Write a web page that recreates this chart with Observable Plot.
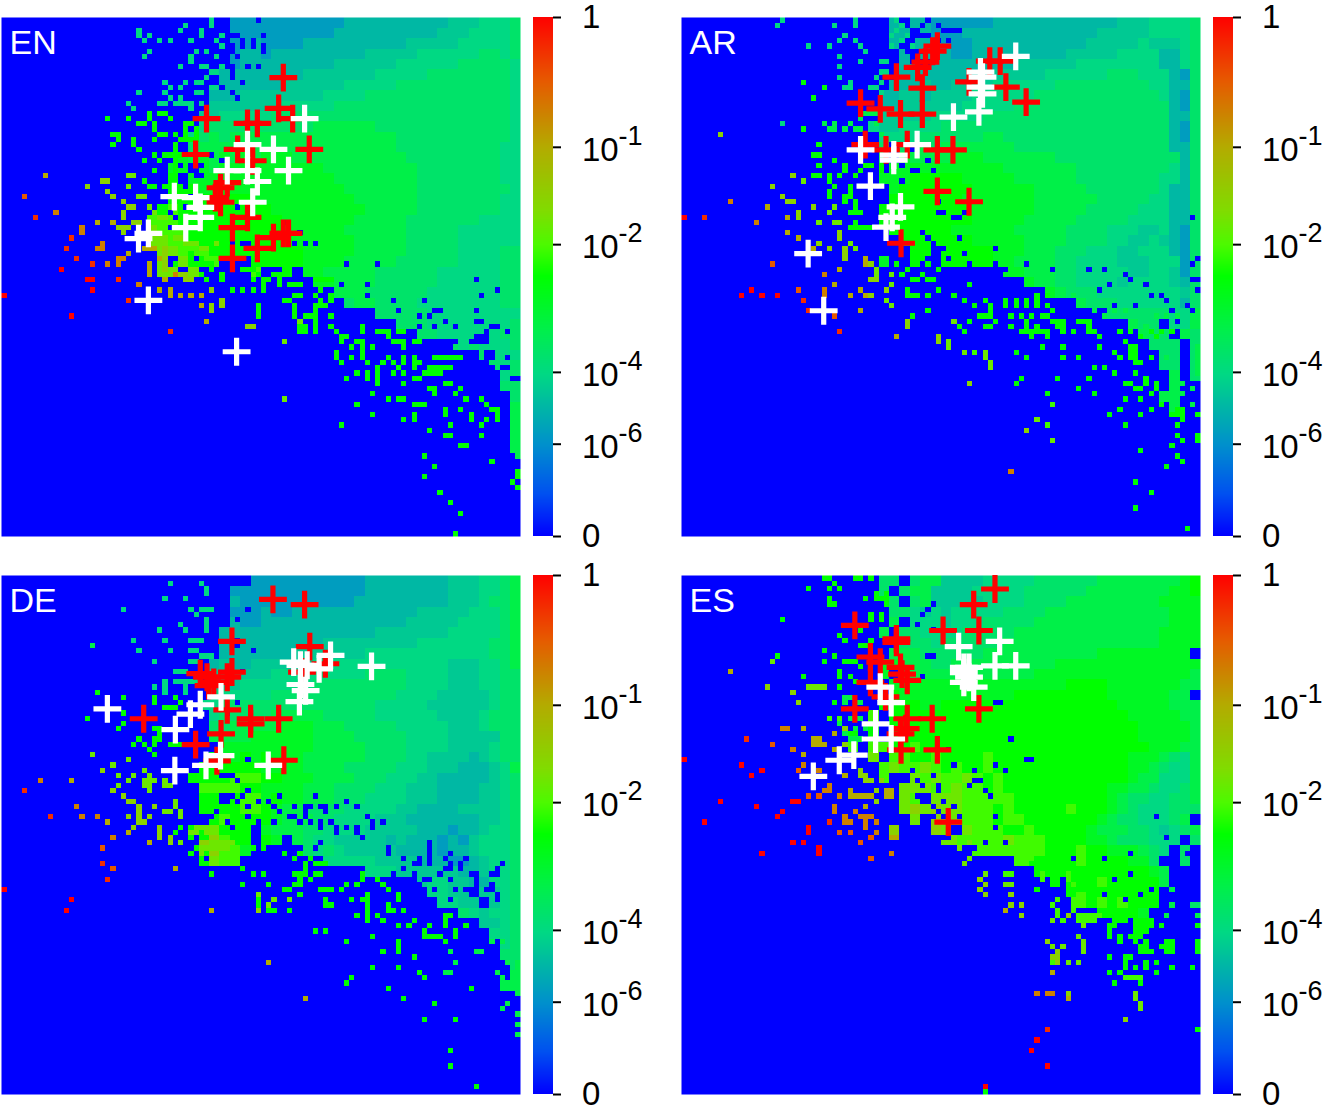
<!DOCTYPE html>
<html><head><meta charset="utf-8">
<script src="https://cdn.jsdelivr.net/npm/d3@7"></script>
<script src="https://cdn.jsdelivr.net/npm/@observablehq/plot@0.6"></script>
<style>html,body{margin:0;padding:0;background:#fff;overflow:hidden}#c{position:relative;width:1329px;height:1109px;overflow:hidden}#c>svg,#c>div{position:absolute;overflow:visible}</style>
</head><body><div id="c"></div>
<script>
const levelChars="abcdefghijklmnop";
const levelValues=[2.5e-6,1.5e-5,4e-5,9e-5,2.3e-4,6.6e-4,1.7e-3,3.9e-3,8.4e-3,1.7e-2,3.2e-2,.1,.2,.35,.6,1];
const barTicks=[0,1e-6,1e-4,1e-2,1e-1,1];
const barBase=["0","10","10","10","10","1"];
const barExp=["","-6","-4","-2","-1",""];
const stopT=[0,.08,.175,.31,.4,.5,.56,.625,.75,.875,1];
const stopColor=["#0000ff","#0050f0","#0090cc","#00d884","#00f048","#00ff00","#4cfa00","#80dc00","#b4aa00","#e65a00","#ff0000"];

const enGrid=[
"......................aaaaaaaaaaabbbbbbbbbbcccddde",
"......................aaaaaaaaaabbbbbbbbbbcccdddde",
"......................aabaaaabbbbbbbbbbcccccddddde",
"......................abbabbbbbbbbbcccccddddddeede",
"......................abbbbbbbbbccccccddddddeeeeed",
".....................bbbbbbbbcccccccdddddeeeeeeeed",
".....................bbbbbbccccccdddddeeeeeeeeeeed",
"....................bbbccccccccddddeeeeeeeeeeeeeed",
"....................cccccccdddddeeeeeeeeeeeeeeeeed",
"...................ccdddddeeeeeeeeeeeeeeeeeeeeeeed",
"...................deeeeeeeeeeffffffeeeeeeeeeeeeed",
"..................defeffffffffffffffffeeeeeeeeeeed",
"..................efffffffffffffffffffeeeeeeeeeedd",
".................gfgfgfgfgggfffffffffffeeeeeeeeedd",
"................gg.gfggggggggggfffffffffeeeeeeeedd",
"................h.ggggggggggggggffffffffeeeeeeeedd",
"................hhhggggggggggggggfffffffeeeeeeeeed",
"................hhhhhhhhggggggggggffffffeeeeeeeedd",
"...............hihhhhhhhhhgggggggggfffffeeeeeeeedd",
"..............iiihhhhhhhhhhgggggggfffffeeeeeeedddd",
"..............jiiihhhhhhhhhggggggffffffeeeeedddddd",
"..............jjiihhhhhhhhhhggggggfffffeeeeedddddd",
"...............jjiiihhhhhhhhhgggggfffffeeeeeddddee",
"...............j.j.ii...hhhhhggggfffffeeeeeeddddee",
"...............jj.j.....i..h.ggfffffeeeeeeddddddee",
"..............................ggffffeeeeeeddddddee",
"................................fffeeeeeedddddddee",
".................................effeeeeddddddddee",
"....................................eeeeeddddddddd",
"......................................eeedddddddde",
"........................................eeddddddee",
"...........................................ededdde",
"..............................................eddd",
"...............................................ede",
"................................................de",
"................................................ee",
".................................................e",
".................................................f",
".................................................f",
".................................................f",
".................................................f",
".................................................f"];
const enCells=[
"p 0,53 16,50 17,50 17,52 13,57 11,48",
"o 12,44 14,46 6,38 32,60 24,54 17,47 22,50 13,42",
"n 4,34",
"m 15,40 15,41 10,37 18,44 19,44 19,43 20,47 22,46 23,46 22,47 26,51 33,49",
"l 8,30 18,39 21,39 28,47 28,48 28,49 30,52 31,50 32,52 24,45 27,44 28,44 29,44 30,46 32,53 34,53 39,58 38,55 36,53 38,53",
"k 22,40 23,40 24,40 23,41 23,37 23,38 24,36 25,36 23,35 21,34 20,33 16,32 19,31 20,31 25,39 26,39 34,49 35,49 35,50 36,50 40,55 40,56 42,54 42,55 47,59 48,59 40,52 54,62 31,44 31,45 31,46 31,47 31,48",
"j 24,30 25,30 24,32 54,62 26,34 27,34 30,38 31,38 29,37 28,36 33,42 34,42 35,43 36,43 37,43 38,44 39,44 41,43 54,62 49,57 57,58 60,59 54,73",
"h 20,19 24,19 28,18 28,19 30,18 31,18 32,19 26,20 27,20 29,20 29,21 35,20 36,20 21,22 22,22 22,23 21,24 25,23 25,24 26,25 29,23 30,22 31,22 33,22 34,23 35,23 36,23 37,23 35,21 35,22 37,21 37,22 29,26 27,27 30,27 31,26 32,26 33,26 34,26 33,24 33,25 33,27 33,28 33,29 29,29 27,31 28,32 29,32 31,32 44,52 46,52 48,52 49,57 42,49 42,50 38,49 39,50 40,48 37,47 38,46 33,47 36,45 36,46 36,47 37,47 38,47 39,47 40,47 46,48 47,48 48,48 49,47 50,47 49,49 48,50 50,50 51,50 50,51 50,52 52,49 53,49 54,49 53,50 53,51 55,51 56,51 57,51 54,54 55,54 56,53 56,55 56,56 56,57 57,53 59,57 60,57 60,58 60,59 60,60 57,59 58,59 61,54 62,55 60,53 61,52 63,53 63,54 60,50 61,50 62,50 63,50 49,55 49,56 49,57 58,57 57,59 56,56 60,56 60,55 58,59 58,60 61,55 57,60",
"h 64,65 64,64 65,66 67,63 67,65 68,62 69,62 69,63 69,64 69,65 68,68 70,66 70,68 70,69 66,69 71,63 69,59 69,60 71,72 68,74 71,76 65,78 72,67 72,68 72,69 72,70 73,66 74,65 75,66 76,67 75,68 77,65 77,66 77,68 77,70 74,73 76,73 77,73 79,74 80,74 81,74 79,76 79,77 77,77 79,65 79,66 79,67 80,66 79,69 80,69 82,67 83,67 84,67 85,67 86,67 81,68 82,68 83,68 84,68 82,71 83,71 85,70 86,70 83,72 88,71 87,72 89,73 88,75 85,75 85,76 82,79 86,78 85,80 86,80 88,82 89,82 92,73 93,74 94,75 95,75 95,76 95,77 93,77 92,78 92,80 90,76 90,77 94,85 81,84 83,86 81,88 84,91 86,93 88,95 87,99 98,89 99,87 99,88 57,59 58,59 60,58 60,59 60,60 60,56 61,54 61,55 62,55 63,57 63,59 64,60 65,61 65,62 66,61 72,60 73,60 74,60 76,60 77,60 74,61 75,62 76,62 77,62 77,63 79,62 80,62 83,65 84,65 85,65 86,65 87,65 88,65 99,90",
"f 98,79 99,76 99,77 99,78 99,79 99,80 99,81 99,82 99,83 99,84 98,74 99,74 98,75 99,75",
"d 26,2 26,3 35,1 34,2 38,2 38,3 40,0 40,1 28,3 27,4 30,4 32,4 36,4 28,6 27,7 37,6 39,6 36,7 36,8 41,7 34,9 38,9 39,9 40,10 41,10 31,12 35,12 37,12 38,12 32,13 34,13 26,14 31,14 37,14 38,14 32,15 34,15 30,16 31,16 33,16 34,16 35,16 36,16 24,16 25,17 36,17 38,16 42,3 41,4 42,5 39,11 42,9 40,13 41,13",
"z 23,5 24,2 24,0 26,0 38,30 37,30 34,28 35,32 32,37 35,36 40,26 46,43 44,43 54,39 58,43 56,43 48,4 50,6 44,5 44,6 44,10 44,11 45,15 32,40 37,38 35,40 42,27 43,29 38,28 36,34 33,38 45,36 47,43 69,77 72,58 64,63 71,57 74,62",
"z 57,41 60,43 70,57 75,59 82,57 85,58 87,62 92,58 93,62 91,50 95,52 94,59 99,69 94,64 97,60 84,56 87,59 80,59 76,56",
"z 92,53 75,54 81,54 80,57 83,56 91,56 91,58 83,59 95,59 72,47 66,47 70,51 70,53 65,51 93,60 93,61 90,62 91,61 92,61 91,62 92,62 83,63 84,63 86,62 86,63 93,64 93,65 97,65 94,65 94,67 96,67 97,67 98,69 93,66 93,67 93,68 46,4 48,5 46,5 50,5 45,7 44,9 44,14 42,13 49,0 44,3 45,3 47,9 50,3 49,9 46,12"];
const enRed=[54.3,11.6,53.4,17.5,56.1,19.5,39.5,19.5,47.4,20.4,49.3,20.4,37.4,26.4,45.5,25.4,48.4,27.6,59.3,25.4,42.2,32.8,43.5,31.8,41.2,34.7,42.2,35.6,47.4,38.5,44.5,40.5,52.4,42.4,55.3,41.6,54.3,41.6,49.3,44.5,44.5,46.4];
const enWhite=[58.4,19.5,47.4,24.5,52.4,25.4,55.3,29.5,43.5,29.5,47.4,29.5,49.3,31.6,48.4,35.6,33.3,34.5,37.4,34.7,38.3,36.6,38.3,38.5,35.5,40.5,28.3,41.6,26.4,42.6,28.3,54.5,45.3,64.4];

const arGrid=[
"....................b.bbaaaaaabbbbbbbbbbbbcccdddde",
"....................bb.baaabbbbbbbbbbbbbcccccdddde",
"....................b.bbbaaabbbbbbbbbbbcccccdcccde",
".....................b.bbbaabbbbbbbbbcccccddddbbde",
".....................bb.bbbbbbbbccccccddddddddbbde",
".....................bbbbbbbbbcccccddddddeeedddbae",
"....................bbbcbbccccddddddeeeeeeeeeddbbe",
"...................bbccbccccddddddeeeeeeeeeeeedbae",
"...................bbccccccdddddeeeeeeeeeeeeeeebae",
"...................cccccdddddeeeeeeeeeeeeeeeeeebbe",
"..................dccddddeeeeeeeeeeeeeeeeeeeeeebae",
"...................ddddeeeeeeffeeeeeeeeeeeeeeeebae",
"...................e.eefefffffffeeeeeeeeeeeeeeebbe",
"...................f.gffffgggfffffffeeeeeeeeeeeebe",
"....................gggggggggggfffffffeeeeeeeeedbe",
"...................ggghhhhhgggggffffffeeeeeeeeddbe",
"....................ghhhhhhhggggggfffffeeeeeeedbbe",
"....................hhhhhhhgggggggffffffeeeeeddbbe",
"...................hhhhhhhhhggggggfffffeeeeedddbbe",
"...................hhhhhhhhhgggggfffffeeeeeddddbbe",
"....................hhhhhhggggggfffffeeeedddccdbae",
".....................hhhhhhhgggggffffeeeeddccdcbae",
"......................hh.hhhhhgggfffeeedddccdddbae",
"...................g..hh.hhhhhggffffeeddddcccdddae",
"...............................ggfffeedddddccddcae",
".................................gffeeddddcddddcbe",
"...................................gfeeeddddddddce",
"......................................feeeddddddbe",
".........................................eeeeeeddf",
"...........................................fee.ddf",
"............................................fee.fe",
".............................................eee.e",
"..............................................ee.e",
"..............................................ee.e",
"...............................................f.e",
"...............................................f..",
"..............................................ff..",
"...............................................f.."];
const arCells=[
"p 0,38 11,53 13,52 15,53 18,53",
"o 4,38 23,54 24,56 30,60",
"n 17,47 22,52 29,57",
"m 9,35 14,39 27,49 27,52 27,53 63,87",
"l 16,36 20,38 20,41 22,42 25,44 29,51 30,48 32,53 34,56 41,61 34,52 35,53 35,46 35,47",
"k 7,22 22,37 22,38 19,34 20,35 21,35 17,32 21,30 25,36 26,43 28,44 30,41 30,42 31,44 31,45 31,46 43,58 43,59 49,62 36,53 39,52 36,47 36,50 37,50 49,61 55,70 66,79",
"j 23,31 26,39 28,37 29,36 29,39 30,39 32,43 33,44 51,63 40,51 39,54 40,55 37,48 37,49 40,49 51,62 54,64 58,64 58,65 59,66 59,67 68,77 71,81 52,58",
"i 56,64 71,74 70,78",
"h 23,12 27,13 25,15 23,21 26,24 25,26 26,26 26,28 29,27 31,28 31,29 25,30 26,30 28,30 28,31 30,30 33,30 28,33 28,34 29,32 32,32 32,33 32,34 31,34 31,35 34,29 35,28 36,28 38,28 38,29 33,35 33,36 33,37 32,37 34,37 33,39 32,40 33,40 34,40 35,40 36,40 64,64 66,65 69,63 73,63 73,65 76,65 80,63 65,69 64,70 72,69 78,69 76,71 79,72 70,72 82,76 85,78 84,75 88,76 90,75 92,74 94,76 96,77 95,78 95,80 96,81 94,82 88,83 95,84 96,85 93,86 87,89 90,91 87,94 97,98 99,76 99,80 99,81 79,67 81,67 83,68 87,68 85,70 86,70 87,71 88,71 89,69 89,70 90,72 91,70 91,71 85,73 88,73 95,75 96,75 95,76 96,76 83,64 84,65 86,63 87,63 86,64 87,64 86,65 87,65 87,66 88,66 90,65",
"h 52,53 55,51 54,54 56,55 58,54 59,55 59,56 57,57 58,57 59,57 55,58 53,59 54,60 58,59 59,59 60,58 63,57 63,59 65,57 67,57 69,57 70,57 66,58 66,59 65,60 66,60 67,60 68,60 69,60 70,60 68,59 70,61 67,61 62,54 62,55 64,54 64,55 66,54 66,55 68,53 68,54 68,55 70,53 70,55 71,56 71,58 72,58 73,58 73,59 73,60 72,59 75,60 76,58 77,58 78,58 78,59 78,60 79,60 80,61 84,60 86,60 85,62 88,61 94,60 90,60 91,61 92,60 48,50 49,48 46,49 47,46 45,53 47,53 49,52 47,56 44,57 41,47 42,49 44,50 45,50 47,50 43,48 43,52 43,53 44,53",
"f 27,20 28,21 29,20 29,21 31,21 32,20 33,21 34,21 37,20 34,19 35,18 36,18 37,18 38,22 75,53 77,55 79,56 81,57 83,56 85,56 89,59 91,57 93,57 95,57 99,63 99,64 99,65 99,66 99,67 93,65 96,70 98,71 99,68 96,72 95,72 94,73 98,74",
"d 18,1 19,0 29,1 33,0 33,1 31,3 30,4 33,4 24,5 28,5 34,5 35,6 30,7 30,9 34,8 38,8 39,8 38,10 39,10 30,11 32,12 32,13 31,13 37,11 38,12 36,13 37,13 38,14 19,20 41,0 42,1 43,3 42,4 44,5 40,5 41,2 40,3",
"z 44,2 45,2 46,1 47,0 46,3 44,4 46,6 45,7 43,6 47,3 49,1 49,4 50,2 51,2 52,2 53,2 51,4 44,8 46,24 44,25 47,27 42,28 44,29 45,29 42,31 49,37 50,37 48,29 52,38 53,38 54,37 49,35 47,42 46,41 48,43 53,42 50,44 60,44 47,46 46,47 54,45 55,47 51,46 49,46 60,47 62,48 66,47 71,48 78,48 82,51 86,50 89,51 81,48 85,49 80,52 83,55 90,53 92,53 87,55 93,54 94,56 95,58 97,55 98,56 99,50 99,52 98,50 98,38 99,46 98,47",
];
const arRed=[49.3,5.5,48.4,6.5,47,8.6,45.5,9.6,41.4,11.5,46.4,13.6,34.5,16.5,38.3,17.6,42.2,18.6,46.4,18.6,35.4,24.5,39.4,25.5,43.5,24.5,49.3,25.5,52.3,25.5,49.3,33.5,55.4,35.5,42.3,43.5,55.4,12.4,59.4,8.4,61.4,8.4,62.5,13.4,66.4,16.3];
const arWhite=[64.4,7.5,57.6,10.5,58,11.5,57.6,13.4,58,14.7,57.3,18.2,52.4,19.2,34.5,25.5,40.9,26.5,40.9,27.5,45.4,24.5,36.4,32.5,42.2,36.5,40.6,38.5,39.4,40.4,24.4,45.5,27.4,56.5];

const deGrid=[
"........................aaaaaaaaaaabbbbbbbbcccddef",
"......................aaaaaaaaaaaaabbbbbbbbcccddef",
"......................baaaaaaaaaaabbbbbbbbbcccdeef",
"......................aaabaabbbbbbbbbbbbcccccdddef",
"......................baabbbbbbbbbbbbbbcccccddddef",
".....................bbbbbbbbbbbbbbbcccccccdddddef",
".....................b.bbbbbbbbcccccccccdddddddeef",
".....................bbbbbbbcccccccddddddddddddeef",
"....................bcbbccccccdddddddddddddcccddef",
"....................ccccccdddddddddeeeeddddcccddee",
"....................cccdddddddeeeeeeeeeddddcccddee",
"....................ddddddeeeeeeeeeeeeddddcccccdee",
"...................ddeeeeeeeeeeeeeeedddddccccccdee",
"....................deeeeefffffeeeeeddddddccccdeee",
"....................eefffffgggfffeeeeedddddcccdeee",
"....................ffffggggggffffeeeeeddddcccccee",
".....................gggggggggfffffeeeeddddccccdee",
"....................ggghghgggffffffeeeeddccccbcdee",
"...................hhhhhhggggffffeeeeedddcccbbbcdf",
"..................hhhhiiihhgggffffeeedddccbbbbbcde",
"...................iiiihhggggfffeeeedddcccbbbbccde",
"...................hh.hiighggfffeeeddddcccbbbbccde",
"...................hhhhiihgffeeeedddddccbbbbccccde",
"....................hihhhhgfffeeddddcccbbbbbbbccde",
"..................jjjhhh.gfffeeddddcccccbbbabbcdde",
"...................kkihh.hg.feddcccccbcbbbabacddde",
"...................jkiig.....ededcccccbbbbabbcddde",
"....................jii........dddddccccbbbaabcdde",
"...................................dddccccccbbcdde",
"........................................cddccbbdde",
".........................................ddcc.ccde",
"..........................................ddcc.cde",
"............................................edcdde",
"..............................................ccde",
"...............................................dde",
"................................................de",
"................................................ee",
".................................................e",
".................................................f",
"................................................ff"];
const deCells=[
"p 0,60 13,62 12,64",
"o 4,41 9,46 19,55 20,58",
"n 19,52 21,56",
"m 7,39 14,44 15,46 18,46 21,50",
"l 13,39 20,47 24,49 28,51 33,56 40,64 51,74 58,81",
"k 24,46 25,48 30,48 30,49 30,50 32,50 32,51 24,43 25,43 26,44 26,45 26,46 26,47 27,47 28,46 29,44 19,37 21,41 23,42 49,64",
"j 17,34 34,51 21,36 24,35 22,38 25,38 24,39 22,40 27,37 28,38 27,39 28,39 27,40 28,40 28,41 29,39 31,39 31,40 32,40 33,43 33,44 34,45 34,46 31,45 32,45 49,61 49,62 52,62 51,63 55,62 40,51 41,51 42,51 43,51 44,51 40,52 41,52 42,52 43,52",
"h 18,22 23,23 23,26 16,27 22,29 23,28 25,32 26,31 27,32 28,33 29,34 29,31 29,32 30,30 29,23 29,24 31,25 32,25 33,25 33,23 34,24 29,29 30,29 30,31 32,32 33,32 34,32 35,32 36,32 31,37 34,48 36,48 33,49 36,50 38,49 38,50 39,50 37,52 36,53 39,53 38,54 38,55 39,55 40,57 46,56 46,59 48,57 50,57 51,59 47,51 48,52 50,51 50,52 54,53 49,62 49,63 52,64 55,64 51,64 54,60 55,60 57,61 56,59 57,57 57,58 57,59 56,57 58,55 58,56 58,57 59,58 60,57 61,57 60,55 61,55 62,55 56,54 57,53 59,54 61,60 62,60 63,60 62,63",
"h 60,68 62,68 66,70 73,72 76,70 76,71 76,72 79,73 71,75 76,75 80,76 81,77 67,77 66,78 74,79 77,81 83,82 90,79 81,85 87,85 86,91 86,94 91,98 70,63 70,64 70,65 68,65 70,66 72,65 73,66 74,64 75,64 77,64 76,67 78,67 79,66 71,69 81,68 81,69 82,69 83,69 82,67 84,69 85,70 87,68 87,69 89,67 85,65 85,66 85,67 86,65 70,61 69,62 70,62 67,62 62,62 63,63 57,61 54,60 55,60 61,60 65,60 66,59 68,59 69,57 69,58 72,58 73,59 74,60 76,61 76,62 74,63",
"f 17,13 85,76 86,76 95,76 96,77 99,77 99,78 99,80 97,82 96,83 99,84 99,86 99,88 87,74 86,72 91,72 92,72 94,70 96,70 97,74 99,74 99,75",
"d 23,6 32,1 31,4 35,4 38,1 39,2 39,3 36,6 37,7 38,6 39,6 40,6 39,8 39,9 39,10 34,9 35,10 30,10 25,12 31,12 36,12 37,12 38,12 26,14 32,14 36,14 37,14 29,16 36,16 37,16 38,15 39,15 40,15 33,18 34,18 35,18 31,20 31,21 31,22 29,21 33,20 34,20 35,20 36,20 37,20 35,21 35,22",
"z 23,4 47,6 45,8 48,14 46,18 45,24 38,29 35,30 43,26 44,42 46,42 49,43 47,46 37,37 42,38 43,38 44,38 45,39 40,46 41,45 43,47 44,48 53,45 55,46 58,46 52,47 49,47 47,44 45,43 52,44 56,46 47,41 51,43 53,42 56,44 58,44 60,42 62,44 64,44 71,47 66,48 70,46 68,49 82,51 85,54 86,55 82,54 79,55 81,58 86,58 77,58 75,57 88,55 91,57 94,59 87,60 89,54 83,60 66,43 68,44 47,35 60,52 61,51",
"z 95,61 95,62 89,60 93,62 86,62 80,59 81,58 91,58 91,59 91,60 93,60 94,60 95,57 90,57 94,57 84,57 82,58 79,57 79,58 77,56 80,54 80,55 82,55 88,55 88,56 85,56 86,56 95,56 96,55 82,52 82,53 86,53 77,54 74,52 74,53 71,47 71,48 73,47 68,48 69,50 64,48 64,49 61,47 61,48 63,47 59,47 57,47 56,46 52,44 51,43 58,45 59,44 61,44 62,45"];
const deRed=[52.3,4.6,58.4,5.6,44.4,12.7,59.4,13.7,39.6,19.6,38.3,18.9,39.9,21.2,40.9,20.6,44.4,18.6,43.5,19.6,43.5,25.9,27.4,27.6,48,28.6,48,27.6,53.4,27.6,42.3,30.5,37.4,32.6,54.4,35.6,57.9,18.6,62.4,17,41.5,35.7];
const deWhite=[20.4,25.7,56.3,16.7,57.6,17.3,63.4,15.4,61.2,18,58.6,22.2,57.6,21,57.4,24.3,71.3,17.5,58.9,17.3,38.3,24.9,42.3,23.4,36.4,26.7,33.5,29.7,42.2,34.7,39.4,36.6,33.4,37.6,51.4,36.6];

const esGrid=[
"...................ee.effccccdddddeeeeeeffffffffgh",
"...................e.effccccdddddeeeeeeffffffffggh",
"....................e.efcccccddddeeeefffffffffgggg",
"....................eedcdcdddddeeeeffffffffffffggg",
"....................f.dddcdddeeeeefffffffffffffggg",
"...................f.eeddddeeeeeffffffffffffffgggg",
".....................eeedeeeeeefffffffffffffffgggg",
"....................fffeeeeeefffffffffffggggggggg",
"...................ggfffeeffffffffffgggggggggggggg",
"...................g.fffffffffffffgggggggggggggggf",
"....................ggggggggggggggggghhhhgggggggff",
"....................hggggggggggghhhhhhhhhggggggff",
"...................hhhhgghhhhhhhhhhhhhhhhhgggggfff",
"..................i.hhhhhhhhhhhhhhhhhhhhhhhgggggff",
"..................h.hhhhhhhhhhhhhhhhhhhhhhhhgggggf",
"................h.h.hhhhhhhhhhhhhhhhhhhhhhhhgggggf",
"................i.iihhihhhhhhhhhhhhhhhhhhhhhhgggff",
"..................j.iihhihhhhihhhhhhhhhhhhhgggfedf",
"...................ijiijihihhihhhhhhhhhhhhhggfeddf",
"...................i..jijiijihihhhhhhhhhhhhgffdddf",
".....................jjjiijiihihhhhhhhhhhggffeddef",
".....................ji.jjjiiiiihhhhhhhhhgfeeddeef",
".....................jkjkjjiiihihhhhhihhhgfedddeee",
"......................j.kkjiiihiihhhhhhhgfeedddef",
"....................k...kj.jiiihhihhhhhgfffeedcdef",
"..........................jjiiijiiihhhhggfeeeddd.e",
"............................iiiiiiihhhihhgggfed.e.",
"................................iihhhhihhhhgge..e.",
"..................................hhhhhhhhhhhgf...",
".....................................hhhihhhhhf...",
".....................................hhhhhhhhh....",
"......................................hhihihhh....",
"........................................hhhhg....."];
const esCells=[
"p 0,35 11,36 15,37 13,38 7,43 14,44 4,47 15,53 21,51 23,51 19,45 18,46 21,43 22,43 24,48 24,49 26,52 26,53 68,89 67,91 70,94 58,98",
"o 12,31 28,47 70,87",
"n 17,32 22,37 24,42 26,42 30,49 32,49 36,50 34,51 36,54",
"m 21,33 23,36 26,37 28,41 27,41 28,40 30,42 29,44 29,45 31,46 31,47 32,47 33,45 34,46 35,46 36,46 35,47 35,48 37,47 37,49 40,53 19,29 20,29 70,80 71,80 68,80",
"l 23,34 9,18 23,29 29,30 25,31 26,31 25,32 26,32 27,32 31,38 32,42 33,42 34,42 35,42 36,42 32,41 39,41 40,41 39,42 40,42 35,44 40,50 41,50 29,33 62,64 71,76 74,81",
"k 16,21 21,22 22,24 31,29 31,32 34,38 35,38 35,39 36,39 34,37 38,39 37,41 37,43 57,58 58,59 63,61 65,63 65,65 74,65 70,70 72,72 72,73 72,74 71,73 74,80 85,85 57,60 58,61 63,63",
"j 24,21 25,21 26,21 27,21 17,16 58,57 71,66 77,67 76,69 77,70 77,71 77,72 71,71 73,71 74,74 76,74 87,80 87,81 88,82 88,83 52,51 53,52 54,55 55,54 50,51 51,51 62,59 63,59",
"i 28,27 30,27 62,57 63,57 69,57 69,58 74,57 74,58 75,59 72,62 71,63 72,64 72,65 73,66 76,61 77,61 76,62 77,62 76,63 77,63 75,62 75,63 75,64 76,65 77,65 78,65 79,65 80,65 76,66 77,66 78,66 79,66 71,74 85,77 86,77 87,77 88,77 53,50 54,50 53,51 54,51 55,50",
"h 19,8 24,2 27,14 29,15 27,16 23,19 29,24 30,21 30,18 30,19 32,19 33,20 34,17 31,16 32,16 33,16 30,11 31,12 34,10 27,0 28,0 29,1 28,2 30,2 28,5 29,5 28,4 33,0 34,0 36,0 35,4 36,7 36,8 38,7 38,8 37,4 38,4 39,4 37,3 39,3 39,5 34,13 35,13 36,12 18,15 58,99 68,60 67,55 68,54 71,57 72,57 71,58 72,58 71,59 72,59 82,73 82,76 83,78 84,76 85,73 85,74 85,75 86,73 88,78 89,74 89,75 87,75 91,74 91,76 94,75 93,70 94,70 93,71 94,71 93,72 94,72 92,71 98,75 99,70 99,71 99,72 99,87 82,67 82,68 82,69 84,69 84,70 86,69 87,70 88,71 89,70 89,71 90,72 88,72 89,72 83,64 84,64 85,64 83,65 84,65 85,65 83,66 84,66 85,66 83,67 87,66 88,66 89,66 90,66 87,67 88,67 89,67 90,67 87,68 88,68 89,68 87,69 88,69 92,67 99,67",
"f 94,60 94,63 93,65 99,65 31,23 32,23 31,24 33,24 34,24 32,27 33,27 34,27 30,28 33,29 35,29 31,30 32,31 33,31 34,31",
"e 98,63 99,63",
"z 0,4 44,48 46,47 50,46 48,46 53,46 52,44 57,39 59,42 62,37 55,40 58,41 56,37 49,40 48,38 46,40 45,39 44,37 46,43 60,46 60,48 62,51 58,51 56,52 49,45 50,43 49,41 45,42 47,47 48,44 75,54 81,54 86,57 61,24 60,24 63,31 66,35 67,35 56,39 60,36 51,33 52,36 46,19 48,10 47,6 48,15 91,46 93,50 94,52 97,53 99,53 86,53 83,58 90,60 85,62 88,61 81,61 93,68 96,69 47,15 48,5 46,7 43,8 45,9"];
const esRed=[60.4,2.6,56.3,5.6,33.4,9.6,50.4,10.6,57.3,10.6,41.4,12.2,41.4,12.9,36.4,15.7,38.3,16.7,42.2,17.7,43.5,20.2,42.5,19,36.4,20.6,57.3,25.7,33.4,25.7,43.5,27.6,48.3,27.6,42.2,30.5,43.2,29.5,42.3,33.6,49.3,33.6,51.4,47.5,39.3,23.4];
const esWhite=[53.4,13.7,61.3,12.7,55.4,17.7,60.4,17.4,64.4,17.4,54.4,17.7,54.4,18.7,55.4,19.6,54.4,20.6,56.3,21.5,38.3,21.5,40.4,24.5,37.4,28.6,37.4,31.5,40.4,31.5,33.2,34.6,30.4,35.6,25.4,38.7];

const ramp=d3.scaleLinear().domain(stopT).range(stopColor).interpolate(d3.interpolateRgb);
const colorScale={type:"pow",exponent:.125,domain:[0,1],interpolate:t=>ramp(t)};
const FONT="Liberation Sans, Helvetica, Arial, sans-serif";
const host=document.getElementById("c");

function values(grid,cells){
  const v=new Array(10000).fill(0);
  grid.forEach((s,r)=>{for(let c=0;c<50&&c<s.length;c++){const k=levelChars.indexOf(s[c]);if(k>=0)for(const dr of [0,1])for(const dc of [0,1])v[(r*2+dr)*100+c*2+dc]=levelValues[k];}});
  for(const line of cells){const [ch,...ps]=line.split(" ");const val=ch==="z"?0:levelValues[levelChars.indexOf(ch)];for(const p of ps){const [c,r]=p.split(",").map(Number);v[r*100+c]=val;}}
  return v;
}
const pairs=a=>d3.range(0,a.length-1,2).map(i=>({x:a[i],y:a[i+1]}));
function place(el,l,t){el.style.left=l+"px";el.style.top=t+"px";host.appendChild(el);}
function panel(label,left,top,grid,cells,red,white){
  const heat=Plot.plot({width:521,height:522,margin:0,style:{background:"transparent",fontFamily:FONT},axis:null,
    x:{domain:[0,100],range:[1,520],axis:null},y:{domain:[0,100],range:[1,520],axis:null},color:colorScale,
    marks:[
      Plot.raster(values(grid,cells),{width:100,height:100,x1:0,x2:100,y1:0,y2:100,imageRendering:"pixelated"}),
      Plot.dot(pairs(red),{x:"x",y:"y",symbol:"plus",r:9,stroke:"#ff0000",strokeWidth:5.2}),
      Plot.dot(pairs(white),{x:"x",y:"y",symbol:"plus",r:9,stroke:"#ffffff",strokeWidth:5.2}),
      Plot.text([label],{x:()=>1.55,y:()=>7.1,text:d=>d,fill:"white",fontSize:34,textAnchor:"start",lineAnchor:"bottom",fontFamily:FONT})
    ]});
  place(heat,left,top);
  const N=519,bands=d3.range(N).map(i=>({a:Math.pow(i/N,8),b:Math.pow((i+1)/N,8)}));
  const ticks=barTicks.map((v,i)=>({v,base:barBase[i],exp:barExp[i]}));
  const bar=Plot.plot({width:135,height:556,margin:0,style:{background:"transparent",fontFamily:FONT},
    x:{domain:[0,1],range:[8,28],axis:null},
    y:{type:"pow",exponent:.125,domain:[0,1],range:[536,17],axis:null},color:colorScale,
    marks:[
      Plot.rect(bands,{x1:()=>0,x2:()=>1,y1:"a",y2:"b",fill:"a",shapeRendering:"crispEdges"}),
      Plot.ruleY(ticks,{y:"v",x1:()=>1,x2:()=>1.4,stroke:"#000",strokeWidth:2}),
      Plot.text(ticks,{filter:d=>d.exp,x:()=>2.42,y:"v",text:"base",fontSize:33,textAnchor:"start",lineAnchor:"middle",dy:3,fill:"#000",fontFamily:FONT}),
      Plot.text(ticks,{filter:d=>!d.exp,x:()=>2.42,y:"v",text:"base",fontSize:33,textAnchor:"start",lineAnchor:"middle",dy:0,fill:"#000",fontFamily:FONT}),
      Plot.text(ticks,{filter:d=>d.exp,x:()=>4.25,y:"v",text:"exp",fontSize:27,textAnchor:"start",lineAnchor:"middle",dy:-11,fill:"#000",fontFamily:FONT})
    ]});
  place(bar,left+525,top-16);
}
panel("EN",0,16,enGrid,enCells,enRed,enWhite);
panel("AR",680,16,arGrid,arCells,arRed,arWhite);
panel("DE",0,574,deGrid,deCells,deRed,deWhite);
panel("ES",680,574,esGrid,esCells,esRed,esWhite);
</script></body></html>
